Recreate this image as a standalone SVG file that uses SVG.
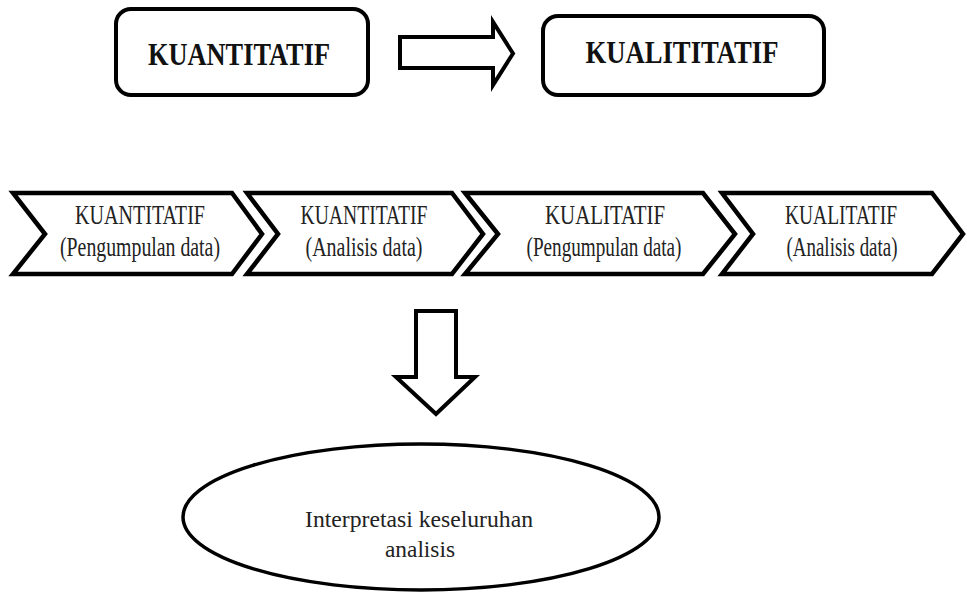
<svg xmlns="http://www.w3.org/2000/svg" width="967" height="594" viewBox="0 0 967 594">
<style>
.box{fill:#fff;stroke:#000;stroke-width:4}
.chev{fill:#fff;stroke:#000;stroke-width:4.5;stroke-linejoin:miter}
.arr{fill:#fff;stroke:#000;stroke-width:4;stroke-linejoin:miter}
.ell{fill:#fff;stroke:#000;stroke-width:3.5}
.tb{font-family:"Liberation Serif",serif;font-weight:bold;font-size:31px;fill:#111}
.tc{font-family:"Liberation Serif",serif;font-size:27px;fill:#222}
.te{font-family:"Liberation Serif",serif;font-size:23.5px;fill:#222}
</style>
<rect width="967" height="594" fill="#fff"/>
<g id="kuantitatif-box">
<rect class="box" x="116" y="9" width="252" height="86" rx="15"/>
<text class="tb" x="239" y="65" text-anchor="middle" textLength="182" lengthAdjust="spacingAndGlyphs">KUANTITATIF</text>
</g>
<g id="kualititatif-box">
<rect class="box" x="543" y="16" width="281" height="79" rx="15"/>
<text class="tb" x="682" y="63" text-anchor="middle" textLength="193" lengthAdjust="spacingAndGlyphs">KUALITITATIF</text>
</g>
<g id="connectors">
<polygon class="arr" points="400,37 493,37 493,22 513,53.5 493,85 493,68 400,68"/>
<polygon class="arr" points="416,311 456,311 456,377 475,377 436,414 396,377 416,377"/>
</g>
<g id="chevron-1">
<polygon class="chev" points="13,193 232,193 262,234 232,274 13,274 45,234"/>
<text class="tc" x="140" y="224" text-anchor="middle" textLength="130" lengthAdjust="spacingAndGlyphs">KUANTITATIF</text>
<text class="tc" x="140" y="256" text-anchor="middle" textLength="160" lengthAdjust="spacingAndGlyphs">(Pengumpulan  data)</text>
</g>
<g id="chevron-2">
<polygon class="chev" points="247,193 452,193 483,234 452,274 247,274 278,234"/>
<text class="tc" x="364" y="224" text-anchor="middle" textLength="127" lengthAdjust="spacingAndGlyphs">KUANTITATIF</text>
<text class="tc" x="364" y="256" text-anchor="middle" textLength="117" lengthAdjust="spacingAndGlyphs">(Analisis  data)</text>
</g>
<g id="chevron-3">
<polygon class="chev" points="465,193 703,193 735,234 703,274 465,274 498,234"/>
<text class="tc" x="605" y="224" text-anchor="middle" textLength="120" lengthAdjust="spacingAndGlyphs">KUALITATIF</text>
<text class="tc" x="604" y="256" text-anchor="middle" textLength="155" lengthAdjust="spacingAndGlyphs">(Pengumpulan  data)</text>
</g>
<g id="chevron-4">
<polygon class="chev" points="722,193 932,193 963,234 932,274 722,274 753,234"/>
<text class="tc" x="841" y="224" text-anchor="middle" textLength="112" lengthAdjust="spacingAndGlyphs">KUALITATIF</text>
<text class="tc" x="842" y="256" text-anchor="middle" textLength="111" lengthAdjust="spacingAndGlyphs">(Analisis  data)</text>
</g>
<g id="interpretasi">
<ellipse class="ell" cx="421" cy="517" rx="238" ry="73"/>
<text class="te" x="419" y="527" text-anchor="middle" textLength="228" lengthAdjust="spacingAndGlyphs">Interpretasi keseluruhan</text>
<text class="te" x="420" y="557" text-anchor="middle" textLength="70" lengthAdjust="spacingAndGlyphs">analisis</text>
</g>
</svg>
